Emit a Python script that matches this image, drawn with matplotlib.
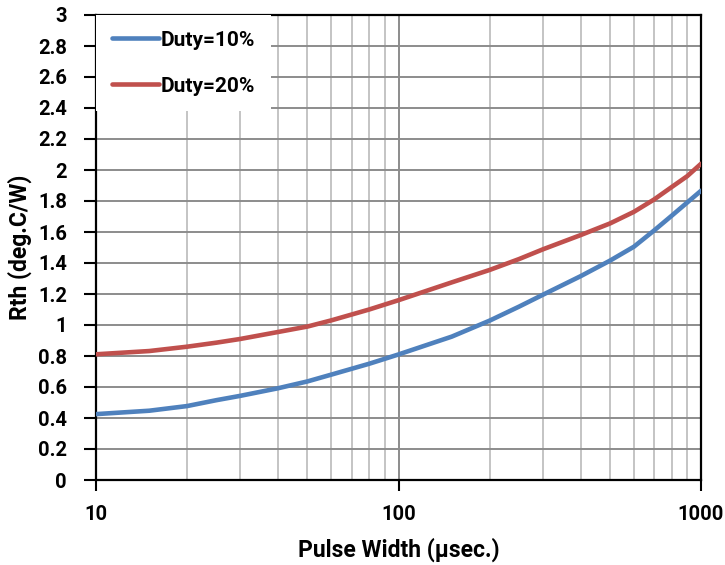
import matplotlib
matplotlib.use("Agg")
import matplotlib.pyplot as plt
from matplotlib.ticker import FixedLocator, NullFormatter

# pulse width (usec) and thermal resistance (deg.C/W)
pulse_width = [10, 15, 20, 25, 30, 40, 50, 60, 80, 100, 150, 200, 250, 300, 400, 500, 600,
               700, 800, 900, 1000]
rth_duty10 = [0.425, 0.447, 0.477, 0.515, 0.543, 0.592, 0.636, 0.68, 0.75, 0.81, 0.925, 1.028,
              1.118, 1.195, 1.315, 1.415, 1.505, 1.61, 1.705, 1.79, 1.866]
rth_duty20 = [0.811, 0.832, 0.86, 0.886, 0.91, 0.955, 0.99, 1.03, 1.10, 1.16, 1.275, 1.355,
              1.425, 1.488, 1.58, 1.655, 1.73, 1.81, 1.89, 1.96, 2.04]
labels = ["Duty=10%", "Duty=20%"]
colors = ["#4F81BD", "#C0504D"]
ytick_labels = ["0", "0.2", "0.4", "0.6", "0.8", "1", "1.2", "1.4", "1.6", "1.8",
                "2", "2.2", "2.4", "2.6", "2.8", "3"]

plt.rcParams["font.family"] = "Roboto"
plt.rcParams["font.weight"] = "bold"
plt.rcParams["axes.labelweight"] = "bold"

fig = plt.figure(figsize=(7.25, 5.65), dpi=100)
ax = fig.add_axes([96 / 725, 1 - 480 / 565, 605 / 725, 465 / 565])

ax.plot(pulse_width, rth_duty10, color=colors[0], lw=3.3, label=labels[0],
        solid_capstyle="round", solid_joinstyle="round", zorder=3)
ax.plot(pulse_width, rth_duty20, color=colors[1], lw=3.3, label=labels[1],
        solid_capstyle="round", solid_joinstyle="round", zorder=3)

ax.set_xscale("log")
ax.set_xlim(10, 1000)
ax.set_ylim(0, 3)
ax.set_yticks([i * 0.2 for i in range(16)])
ax.set_yticklabels(ytick_labels)
ax.xaxis.set_major_locator(FixedLocator([10, 100, 1000]))
ax.set_xticklabels(["10", "100", "1000"])
ax.xaxis.set_minor_locator(FixedLocator([k * d for d in (10, 100) for k in range(2, 10)]))
ax.xaxis.set_minor_formatter(NullFormatter())

ax.grid(True, which="major", axis="y", color="#8c8c8c", lw=1.4, zorder=0)
ax.grid(True, which="major", axis="x", color="#8c8c8c", lw=1.4, zorder=0)
ax.grid(True, which="minor", axis="x", color="#c4c4c4", lw=1.4, zorder=0)

for s in ax.spines.values():
    s.set_linewidth(1.6)
    s.set_color("black")

ax.tick_params(axis="y", which="major", direction="out", length=9, width=1.5, pad=12, labelsize=14.5)
ax.tick_params(axis="x", which="major", direction="out", length=8, width=1.5, pad=10, labelsize=14.5)
ax.tick_params(axis="x", which="minor", length=0)

ax.set_xlabel("Pulse Width (μsec.)", fontsize=16.5, labelpad=10)
ax.set_ylabel("Rth (deg.C/W)", fontsize=16.5, labelpad=4)

leg = ax.legend(loc="upper left", bbox_to_anchor=(0.0, 1.0), frameon=True, fontsize=15,
                handlelength=2.25, handletextpad=0.1, labelspacing=1.3,
                borderpad=0.75, borderaxespad=0.0, fancybox=False)
leg.get_frame().set_facecolor("white")
leg.get_frame().set_edgecolor("none")
leg.get_frame().set_alpha(1.0)
leg.set_zorder(5)

fig.savefig("out.png", dpi=100)
